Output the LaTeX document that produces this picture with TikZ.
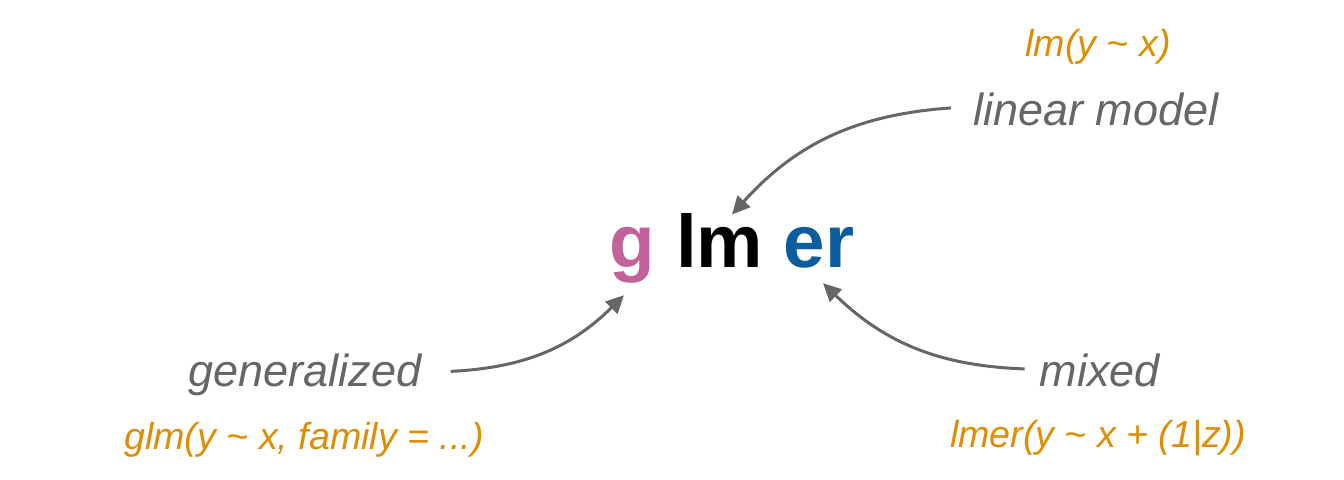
\documentclass[tikz,border=0pt]{standalone}
\usepackage{fontspec}
\setmainfont{Liberation Sans}
\usepackage{xcolor}
\usetikzlibrary{arrows.meta,calc}
\definecolor{gpink}{HTML}{C2619A}
\definecolor{erblue}{HTML}{0C5DA0}
\definecolor{codeorange}{HTML}{DF8D02}
\definecolor{labelgray}{HTML}{666666}

\begin{document}
\begin{tikzpicture}[x=0.5pt,y=0.5pt]
\tikzstyle{word}=[anchor=base,inner sep=0pt,text=labelgray,font=\fontsize{22.5}{27}\selectfont\itshape]
\tikzstyle{code}=[anchor=base,inner sep=0pt,text=codeorange,font=\fontsize{18.8}{22}\selectfont\itshape]
\tikzstyle{curvearrow}=[draw=labelgray,line width=1.5pt,-{Triangle[length=9pt,width=8.5pt]}]
\useasboundingbox (0,0) rectangle (1344,480);
% centre word
\node[anchor=base,inner sep=0pt,font=\fontsize{37.3}{44}\selectfont\bfseries] (glmer) at (732,212)
  {\textcolor{gpink}{g} lm \textcolor{erblue}{er}};
% labels
\node[code] (lmcode) at (1098,423) {lm(y \char`\~{} x)};
\node[word] (lin) at (1096,354) {linear model};
\node[word] (gen) at (305,93) {generalized};
\node[code] (glmcode) at (304,30) {glm(y \char`\~{} x, family = ...)};
\node[word] (mix) at (1100,93) {mixed};
\node[code] (lmercode) at (1098,32) {lmer(y \char`\~{} x + (1|z))};
% arrow tips
\coordinate (lmtip) at ($(glmer.north)+(0,-1)$);
\coordinate (gtip) at ($(glmer.south)+(-108,-11)$);
\coordinate (ertip) at ($(glmer.south)+(91,1)$);
% connectors
\draw[curvearrow] ($(lin.west)+(-22,2)$) to[bend right=22] (lmtip);
\draw[curvearrow] ($(gen.east)+(29,4)$) to[bend right=21] (gtip);
\draw[curvearrow] ($(mix.west)+(-15,2)$) to[bend left=21] (ertip);
\end{tikzpicture}
\end{document}
